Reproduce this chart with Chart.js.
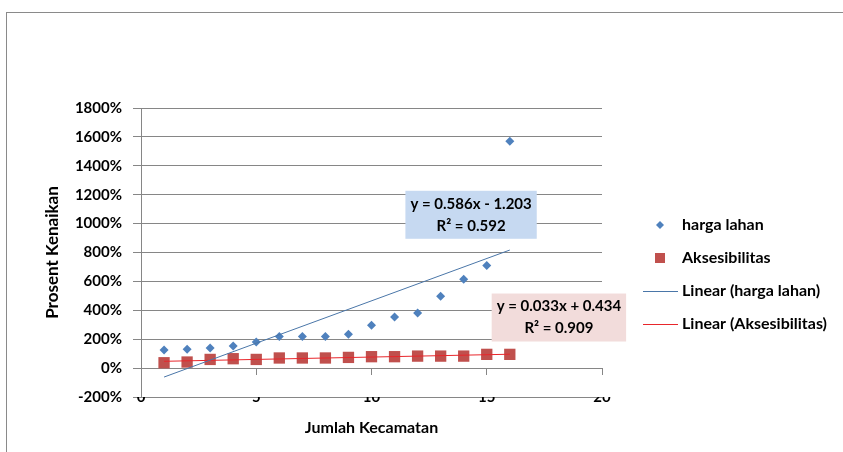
<!DOCTYPE html>
<html>
<head>
<meta charset="utf-8">
<script src="https://cdn.jsdelivr.net/npm/chart.js"></script>
<style>
  body { margin: 0; background: #fff; }
  #wrap { position: relative; width: 843px; height: 452px; overflow: hidden; }
  #frame { position: absolute; left: 6px; top: 12px; width: 860px; height: 460px;
           border-left: 1px solid #8a8a8a; border-top: 1px solid #8a8a8a; }
  canvas { position: absolute; left: 0; top: 0; }
</style>
</head>
<body>
<div id="wrap">
  <div id="frame"></div>
  <canvas id="chart" width="843" height="452"></canvas>
</div>
<script>
// data (values in percent)
const kecamatan = [1, 2, 3, 4, 5, 6, 7, 8, 9, 10, 11, 12, 13, 14, 15, 16];
const hargaLahan = [125, 130, 139, 153, 181, 218, 218, 218, 234, 296, 354, 382, 497, 615, 710, 1570];
const aksesibilitas = [37, 42, 60, 65, 60, 70, 70, 70, 74, 79, 79, 83, 83, 83, 95, 95];

// trendline end points (x = 1 and x = 16)
const trendX = [1, 16];
const trendHarga = [-62, 817];
const trendAkses = [47, 96];

const yTicks = [-200, 0, 200, 400, 600, 800, 1000, 1200, 1400, 1600, 1800];
const xTicks = [0, 5, 10, 15, 20];

const eqHarga = ['y = 0.586x - 1.203', 'R² = 0.592'];
const eqAkses = ['y = 0.033x + 0.434', 'R² = 0.909'];

const toPoints = (xs, ys) => xs.map((x, i) => ({ x: x, y: ys[i] }));

const BLUE = '#4F81BD';
const RED = '#C0504D';
const GRID = '#868686';

Chart.defaults.font.family = 'Lato, "Open Sans", sans-serif';
Chart.defaults.color = '#000';

// equation boxes, anchored in data units (box centre)
const eqBoxes = [
  { lines: eqHarga, x: 14.32, y: 1061, fill: '#C6D9F1' },
  { lines: eqAkses, x: 18.13, y: 350, fill: '#F2DCDB' }
];

const equationPlugin = {
  id: 'equations',
  afterDatasetsDraw(chart) {
    const ctx = chart.ctx;
    const xs = chart.scales.x, ys = chart.scales.y;
    ctx.save();
    ctx.font = 'bold 15px Lato, "Open Sans", sans-serif';
    eqBoxes.forEach(b => {
      const cx = xs.getPixelForValue(b.x);
      const cy = ys.getPixelForValue(b.y);
      const w = Math.max(...b.lines.map(t => ctx.measureText(t).width)) + 10;
      const h = 48;
      ctx.fillStyle = b.fill;
      ctx.fillRect(cx - w / 2, cy - h / 2, w, h);
      ctx.fillStyle = '#000';
      ctx.textAlign = 'center';
      ctx.textBaseline = 'middle';
      ctx.fillText(b.lines[0], cx, cy - 11);
      ctx.fillText(b.lines[1], cx, cy + 11);
    });
    ctx.restore();
  }
};

const legendPlugin = {
  id: 'sideLegend',
  afterDraw(chart) {
    const ctx = chart.ctx;
    const area = chart.chartArea;
    const mx = area.right + 58;
    let y = area.top + 117;
    ctx.save();
    ctx.font = 'bold 16px Lato, "Open Sans", sans-serif';
    ctx.textBaseline = 'middle';
    ctx.textAlign = 'left';
    chart.data.datasets.forEach(ds => {
      if (ds.showLine) {
        ctx.strokeStyle = ds.borderColor;
        ctx.lineWidth = 1;
        ctx.beginPath();
        ctx.moveTo(mx - 17, y + 0.5);
        ctx.lineTo(mx + 18, y + 0.5);
        ctx.stroke();
      } else if (ds.pointStyle === 'rectRot') {
        ctx.fillStyle = ds.backgroundColor;
        ctx.beginPath();
        ctx.moveTo(mx, y - 4);
        ctx.lineTo(mx + 4, y);
        ctx.lineTo(mx, y + 4);
        ctx.lineTo(mx - 4, y);
        ctx.closePath();
        ctx.fill();
      } else {
        ctx.fillStyle = ds.backgroundColor;
        ctx.fillRect(mx - 5, y - 5, 10, 10);
      }
      ctx.fillStyle = '#000';
      ctx.fillText(ds.label, mx + 22, y);
      y += 33;
    });
    ctx.restore();
  }
};

new Chart(document.getElementById('chart'), {
  type: 'scatter',
  data: {
    datasets: [
      {
        label: 'harga lahan',
        data: toPoints(kecamatan, hargaLahan),
        pointStyle: 'rectRot',
        pointRadius: 4.5,
        backgroundColor: BLUE,
        borderColor: BLUE,
        borderWidth: 0,
        order: 2
      },
      {
        label: 'Aksesibilitas',
        data: toPoints(kecamatan, aksesibilitas),
        pointStyle: 'rect',
        pointRadius: 8,
        backgroundColor: RED,
        borderColor: RED,
        borderWidth: 0,
        order: 2
      },
      {
        label: 'Linear (harga lahan)',
        data: toPoints(trendX, trendHarga),
        showLine: true,
        pointRadius: 0,
        borderColor: '#4A76A8',
        borderWidth: 1,
        order: 1
      },
      {
        label: 'Linear (Aksesibilitas)',
        data: toPoints(trendX, trendAkses),
        showLine: true,
        pointRadius: 0,
        borderColor: '#E8262B',
        borderWidth: 1,
        order: 1
      }
    ]
  },
  options: {
    responsive: false,
    animation: false,
    devicePixelRatio: 1,
    layout: { padding: { left: 42, top: 108, right: 241, bottom: 15 } },
    plugins: {
      legend: { display: false },
      tooltip: { enabled: false }
    },
    scales: {
      x: {
        type: 'linear',
        position: 'bottom',
        min: xTicks[0],
        max: xTicks[xTicks.length - 1],
        afterBuildTicks: s => { s.ticks = xTicks.map(v => ({ value: v })); },
        ticks: { color: '#000', font: { size: 15, weight: 'bold' }, padding: -9 },
        grid: { display: false, drawTicks: false },
        border: { display: false },
        title: { display: true, text: 'Jumlah Kecamatan', color: '#000',
                 font: { size: 16, weight: 'bold' }, padding: 0 },
        afterFit: s => { s.height = 40; }
      },
      x2: {
        type: 'linear',
        position: { y: 0 },
        min: xTicks[0],
        max: xTicks[xTicks.length - 1],
        afterBuildTicks: s => { s.ticks = xTicks.map(v => ({ value: v })); },
        ticks: { display: false },
        grid: { drawOnChartArea: false, color: GRID, tickLength: 6 },
        border: { color: GRID }
      },
      y: {
        min: yTicks[0],
        max: yTicks[yTicks.length - 1],
        afterBuildTicks: s => { s.ticks = yTicks.map(v => ({ value: v })); },
        ticks: { color: '#000', font: { size: 15, weight: 'bold' }, padding: 11,
                 callback: v => v + '%' },
        grid: { color: GRID, tickLength: 8 },
        border: { color: GRID },
        title: { display: true, text: 'Prosent Kenaikan', color: '#000',
                 font: { size: 17, weight: 'bold' }, padding: 0 },
        afterFit: s => { s.width = 99; }
      }
    }
  },
  plugins: [equationPlugin, legendPlugin]
});
</script>
</body>
</html>
